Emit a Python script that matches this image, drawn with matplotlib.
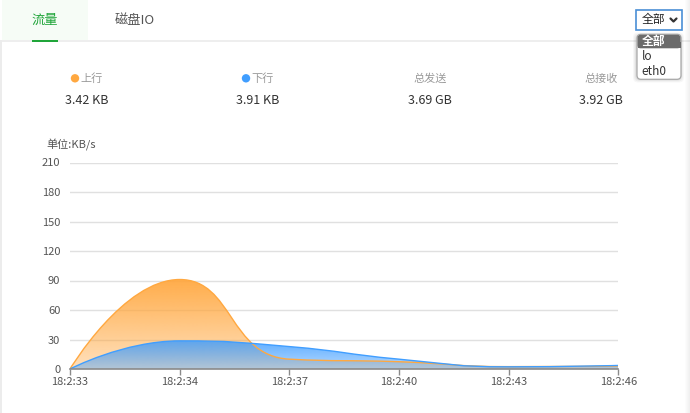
import numpy as np
import matplotlib
matplotlib.use("Agg")
import matplotlib.pyplot as plt
from matplotlib.path import Path
from matplotlib.patches import PathPatch, Rectangle, FancyBboxPatch
from matplotlib.lines import Line2D

plt.rcParams['font.family'] = ['Noto Sans CJK SC', 'DejaVu Sans']

# ---------------- data ----------------
times = ["18:2:33", "18:2:34", "18:2:37", "18:2:40", "18:2:43", "18:2:46"]
upload = [0, 91, 10, 7.4, 2.4, 3.0]
download = [0, 28.6, 22.8, 10, 2.2, 3.6]
y_ticks = [0, 30, 60, 90, 120, 150, 180, 210]
unit_label = "单位:KB/s"
stat_labels = ["上行", "下行", "总发送", "总接收"]
stat_values = ["3.42 KB", "3.91 KB", "3.69 GB", "3.92 GB"]
tabs = ["流量", "磁盘IO"]
options = ["全部", "lo", "eth0"]

ORANGE = (255/255, 168/255, 64/255)
BLUE = (64/255, 158/255, 255/255)

W, H = 690, 413
fig = plt.figure(figsize=(W/100, H/100), dpi=100)
fig.patch.set_facecolor('white')

# background / decoration axes in pixel coordinates
bg = fig.add_axes([0, 0, 1, 1], zorder=0)
bg.set_xlim(0, W)
bg.set_ylim(H, 0)
bg.axis('off')

# tab area
bg.add_patch(Rectangle((2, 0), 86, 40, facecolor='#f6fcf6', edgecolor='none'))
bg.add_patch(Rectangle((0, 40), W, 2, facecolor='#eeeeee', edgecolor='none'))
bg.add_patch(Rectangle((0, 40), 2, H - 40, facecolor='#ececec', edgecolor='none'))
bg.add_patch(Rectangle((32, 39.5), 26, 2, facecolor='#20a53a', edgecolor='none'))
bg.text(44.7, 20.5, tabs[0], color='#20a53a', fontsize=9.5, ha='center', va='center')
bg.text(135, 20.5, tabs[1], color='#555555', fontsize=9.5, ha='center', va='center')

# right page edge shadow
for i, a in enumerate(np.linspace(0.0, 0.06, 6)):
    bg.add_patch(Rectangle((684 + i, 0), 1, H, facecolor='black', alpha=a, edgecolor='none'))

# stats row
centers = [87, 258, 430, 601]
dot_colors = [ORANGE, BLUE, None, None]
for c, lab, val, dc in zip(centers, stat_labels, stat_values, dot_colors):
    if dc is not None:
        bg.text(c + 5, 78.5, lab, color='#999999', fontsize=8, ha='center', va='center')
        bg.add_patch(plt.Circle((c - 12, 78.3), 4.2, color=dc, ec='none'))
    else:
        bg.text(c, 78.5, lab, color='#999999', fontsize=8, ha='center', va='center')
    bg.text(c, 101, val, color='#333333', fontsize=9, ha='center', va='center')

bg.text(46.5, 144.5, unit_label, color='#555555', fontsize=8, ha='left', va='center')

# dropdown select
bg.add_patch(Rectangle((636, 9.5), 46, 20.5, facecolor='white', edgecolor='#4a8fd6', lw=1.2))
bg.text(641.5, 20, options[0], color='#222222', fontsize=8.5, ha='left', va='center')
bg.add_line(Line2D([670.5, 673.5, 676.5], [18.5, 21.5, 18.5], color='#333333', lw=1.6,
                   solid_capstyle='round', solid_joinstyle='round'))
# dropdown list with shadow
for k, a in enumerate([0.05, 0.04, 0.03]):
    bg.add_patch(FancyBboxPatch((635 - k, 33.5 - k + 1), 47 + 2 * k, 46 + 2 * k,
                                boxstyle="round,pad=0,rounding_size=5",
                                facecolor='black', alpha=a, edgecolor='none'))
bg.add_patch(FancyBboxPatch((637, 34.3), 44, 45, boxstyle="round,pad=0,rounding_size=4",
                            facecolor='white', edgecolor='#a8a8a8', lw=0.9))
bg.add_patch(FancyBboxPatch((637.5, 34.8), 43, 13.5, boxstyle="round,pad=0,rounding_size=3",
                            facecolor='#6b6b6b', edgecolor='none'))
bg.add_patch(Rectangle((637.5, 42), 43, 6.3, facecolor='#6b6b6b', edgecolor='none'))
bg.text(641.5, 41.5, options[0], color='white', fontsize=8.5, ha='left', va='center',
        fontweight='bold')
bg.text(641.5, 57, options[1], color='#333333', fontsize=8.5, ha='left', va='center')
bg.text(641.5, 71.5, options[2], color='#333333', fontsize=8.5, ha='left', va='center')

# ---------------- chart ----------------
left, right, top, bottom = 70, 618.3, 162.5, 369
ax = fig.add_axes([left / W, 1 - bottom / H, (right - left) / W, (bottom - top) / H], zorder=2)
ax.patch.set_alpha(0)
n = len(times)
xs = np.arange(n)
ax.set_xlim(0, n - 1)
ax.set_ylim(y_ticks[0], y_ticks[-1])

for s in ['top', 'right', 'left']:
    ax.spines[s].set_visible(False)
ax.spines['bottom'].set_color('#8a8a8a')
ax.spines['bottom'].set_linewidth(1.2)
ax.spines['bottom'].set_zorder(10)
ax.set_yticks(y_ticks)
ax.set_yticklabels([str(v) for v in y_ticks])
ax.tick_params(axis='y', length=0, pad=7, labelsize=8, labelcolor='#555555')
ax.set_xticks(xs)
ax.set_xticklabels(times)
ax.tick_params(axis='x', length=4.5, width=1, color='#8a8a8a', pad=1.5,
               labelsize=8, labelcolor='#555555')
for v in y_ticks[1:]:
    ax.axhline(v, color='#e0e0e0', lw=1, zorder=0.5)


def smooth_path(xv, yv, smooth=0.5):
    """ECharts-5-style constrained smooth bezier path, computed in display space."""
    pts = ax.transData.transform(np.column_stack([xv, yv]))
    verts = [pts[0]]
    codes = [Path.MOVETO]
    cp0 = pts[0].copy()
    m = len(pts)
    for i in range(1, m):
        x, y = pts[i]
        px_, py_ = pts[i - 1]
        if i + 1 < m:
            nx, ny = pts[i + 1]
            vx, vy = nx - px_, ny - py_
            l0 = np.hypot(x - px_, y - py_)
            l1 = np.hypot(nx - x, ny - y)
            r = l1 / (l0 + l1)
            ncx = x + vx * smooth * r
            ncy = y + vy * smooth * r
            # constrain next cp0 to box of point / next point
            ncx = min(ncx, max(nx, x)); ncy = min(ncy, max(ny, y))
            ncx = max(ncx, min(nx, x)); ncy = max(ncy, min(ny, y))
            vx, vy = ncx - x, ncy - y
            c1x = x - vx * l0 / l1
            c1y = y - vy * l0 / l1
            c1x = min(c1x, max(px_, x)); c1y = min(c1y, max(py_, y))
            c1x = max(c1x, min(px_, x)); c1y = max(c1y, min(py_, y))
            vx, vy = x - c1x, y - c1y
            ncx = x + vx * l1 / l0
            ncy = y + vy * l1 / l0
        else:
            ncx, ncy = x, y
            c1x, c1y = x, y
        verts += [cp0, np.array([c1x, c1y]), np.array([x, y])]
        codes += [Path.CURVE4] * 3
        cp0 = np.array([ncx, ncy])
    inv = ax.transData.inverted()
    return inv.transform(np.array(verts)), codes


def draw_series(values, color, a_top, a_bot, z):
    verts, codes = smooth_path(xs, values)
    line = Path(verts, codes)
    av = np.vstack([verts, [[xs[-1], 0], [xs[0], 0], [xs[0], 0]]])
    ac = codes + [Path.LINETO, Path.LINETO, Path.CLOSEPOLY]
    patch = PathPatch(Path(av, ac), facecolor='none', edgecolor='none')
    ax.add_patch(patch)
    ymax = max(values)
    N = 256
    grad = np.zeros((N, 1, 4))
    grad[:, 0, 0:3] = color
    grad[:, 0, 3] = np.linspace(a_bot, a_top, N)
    im = ax.imshow(grad, extent=[xs[0], xs[-1], 0, ymax], origin='lower',
                   aspect='auto', zorder=z, interpolation='bilinear')
    im.set_clip_path(patch)
    return line


l_up = draw_series(upload, ORANGE, 0.95, 0.35, 2)
l_dn = draw_series(download, BLUE, 0.85, 0.4, 3)
ax.add_patch(PathPatch(l_up, facecolor='none', edgecolor=ORANGE, lw=1.0, zorder=4))
ax.add_patch(PathPatch(l_dn, facecolor='none', edgecolor=BLUE, lw=1.0, zorder=5))
ax.set_xlim(0, n - 1)
ax.set_ylim(y_ticks[0], y_ticks[-1])

fig.savefig("out.png", dpi=100)
